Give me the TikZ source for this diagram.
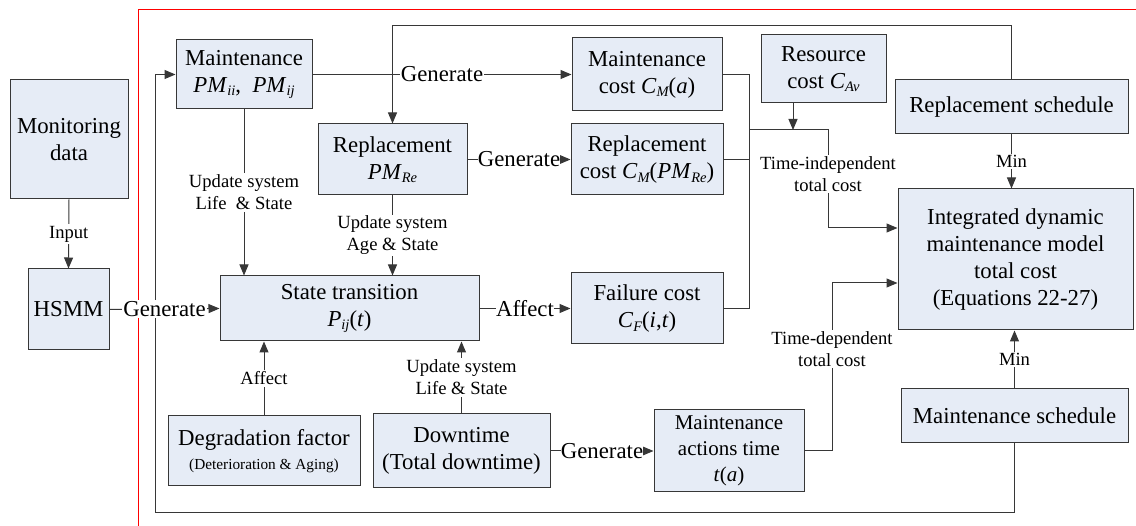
\documentclass[tikz,border=0pt]{standalone}
\usepackage{fontspec}
\setmainfont{Liberation Serif}
\usetikzlibrary{arrows.meta}
\definecolor{boxfill}{RGB}{230,236,246}
\definecolor{lnc}{RGB}{55,55,55}
\newcommand{\bigf}{\fontsize{22.8}{27}\selectfont}
\newcommand{\midf}{\fontsize{21}{26}\selectfont}
\newcommand{\smallf}{\fontsize{18.6}{22}\selectfont}
\newcommand{\tinyf}{\fontsize{15.3}{18}\selectfont}
\newcommand{\mysub}[1]{\raisebox{-0.35ex}{\fontsize{14.5}{14.5}\selectfont\itshape #1}}
\tikzset{
  box/.style={draw=lnc, fill=boxfill, line width=1pt, inner sep=0pt, align=center, font=\bigf},
  lbl/.style={fill=white, inner sep=1.5pt, align=center, font=\smallf},
  blbl/.style={fill=white, inner sep=1pt, align=center, font=\bigf},
  ln/.style={draw=lnc, line width=1pt},
  arr/.style={ln, -{Triangle[length=11pt,width=9pt]}}
}
\begin{document}
\begin{tikzpicture}[x=1pt,y=-1pt]
\useasboundingbox (0,0) rectangle (1136,526);
% red frame lines
\draw[red, line width=1pt] (138,526) -- (138,10) -- (1136,10);

% boxes
\node[box, minimum width=118, minimum height=119] (mon) at (69,139.5) {Monitoring\\data};
\node[box, minimum width=81, minimum height=81] (hsmm) at (68.5,309.5) {HSMM};
\node[box, minimum width=136, minimum height=69] (maint) at (244,74.5) {Maintenance\\\textit{PM}\mysub{ii},\ \ \textit{PM}\mysub{ij}};
\node[box, minimum width=149, minimum height=71] (repl) at (392.5,159.5) {Replacement\\\textit{PM}\mysub{Re}};
\node[box, minimum width=150, minimum height=73] (mcost) at (647,74.5) {Maintenance\\cost \textit{C}\mysub{M}(\textit{a})};
\node[box, minimum width=152, minimum height=71] (rcost) at (647,159.5) {Replacement\\cost \textit{C}\mysub{M}(\textit{PM}\mysub{Re})};
\node[box, minimum width=125, minimum height=68] (res) at (823.5,69) {Resource\\cost \textit{C}\mysub{Av}};
\node[box, minimum width=233, minimum height=54] (rsch) at (1011.5,107) {Replacement schedule};
\node[box, minimum width=235, minimum height=141] (integ) at (1015.5,259.5) {Integrated dynamic\\maintenance model\\total cost\\(Equations 22-27)};
\node[box, minimum width=227, minimum height=54] (msch) at (1014.5,416) {Maintenance schedule};
\node[box, minimum width=259, minimum height=65] (state) at (349.5,308.5) {State transition\\\textit{P}\mysub{ij}(\textit{t})};
\node[box, minimum width=152, minimum height=71] (fail) at (647,308.5) {Failure cost\\\textit{C}\mysub{F}(\textit{i},\textit{t})};
\node[box, minimum width=192, minimum height=70] (deg) at (264,451) {Degradation factor\\[-3pt]{\tinyf (Deterioration \& Aging)}};
\node[box, minimum width=177, minimum height=74] (down) at (461.5,451) {Downtime\\(Total downtime)};
\node[box, minimum width=150, minimum height=82, font=\midf] (mat) at (729,451) {Maintenance\\actions time\\\textit{t}(\textit{a})};

% coordinates
\coordinate (lb) at (155,513);
\coordinate (tl) at (392.5,26);
\coordinate (b1) at (749,74.5);
\coordinate (b2) at (749,308.5);
\coordinate (j1) at (749,130);
\coordinate (j2) at (828,130);
\coordinate (j3) at (828,228);
\coordinate (t1) at (832,451);
\coordinate (t2) at (832,283);

% feedback loops
\draw[arr] (msch.south) |- (lb) |- (maint.west);
\draw[arr] (rsch.north) |- (tl) -- (repl.north);

% input
\draw[arr] (mon.south) -- node[lbl] (lin) {Input} (hsmm.north);
\draw[arr] (hsmm.east) -- node[blbl] (lgen1) {Generate} (state.west);

% generate / update
\draw[arr] (maint.east) -- node[blbl] (lgen2) {Generate} (mcost.west);
\draw[arr] (maint.south) -- node[lbl] (lup1) {Update system\\Life\ \ \& State} (maint.south |- state.north);
\draw[arr] (repl.south) -- node[lbl] (lup2) {Update system\\Age \& State} (repl.south |- state.north);
\draw[arr] (repl.east) -- node[blbl, inner sep=0pt] (lgen3) {Generate} (rcost.west);
\draw[arr] (state.east) -- node[blbl, inner sep=0pt] (laff1) {Affect} (fail.west);
\draw[arr] (deg.north) -- node[lbl] (laff2) {Affect} (deg.north |- state.south);
\draw[arr] (down.north) -- node[lbl] (lup3) {Update system\\Life \& State} (down.north |- state.south);
\draw[arr] (down.east) -- node[blbl, inner sep=0pt] (lgen4) {Generate} (mat.west);

% cost bus
\draw[ln] (mcost.east) -- (b1) -- (b2) -- (fail.east);
\draw[ln] (rcost.east) -- (rcost.east -| b1);
\draw[arr] (j1) -- (j2) -- (j3) -- (j3 -| integ.west);
\node[lbl] (ltind) at (828,174) {Time-independent\\total cost};
\draw[arr] ([xshift=-30.5pt]res.south) -- ([xshift=-30.5pt]res.south |- j1);

% time-dependent
\draw[arr] (mat.east) -- (t1) -- (t2) -- (t2 -| integ.west);
\node[lbl] (ltdep) at (832,349) {Time-dependent\\total cost};

% min
\draw[arr] (rsch.south) -- node[lbl] (lmin1) {Min} (rsch.south |- integ.north);
\draw[arr] (msch.north) -- node[lbl] (lmin2) {Min} (msch.north |- integ.south);
\end{tikzpicture}
\end{document}
